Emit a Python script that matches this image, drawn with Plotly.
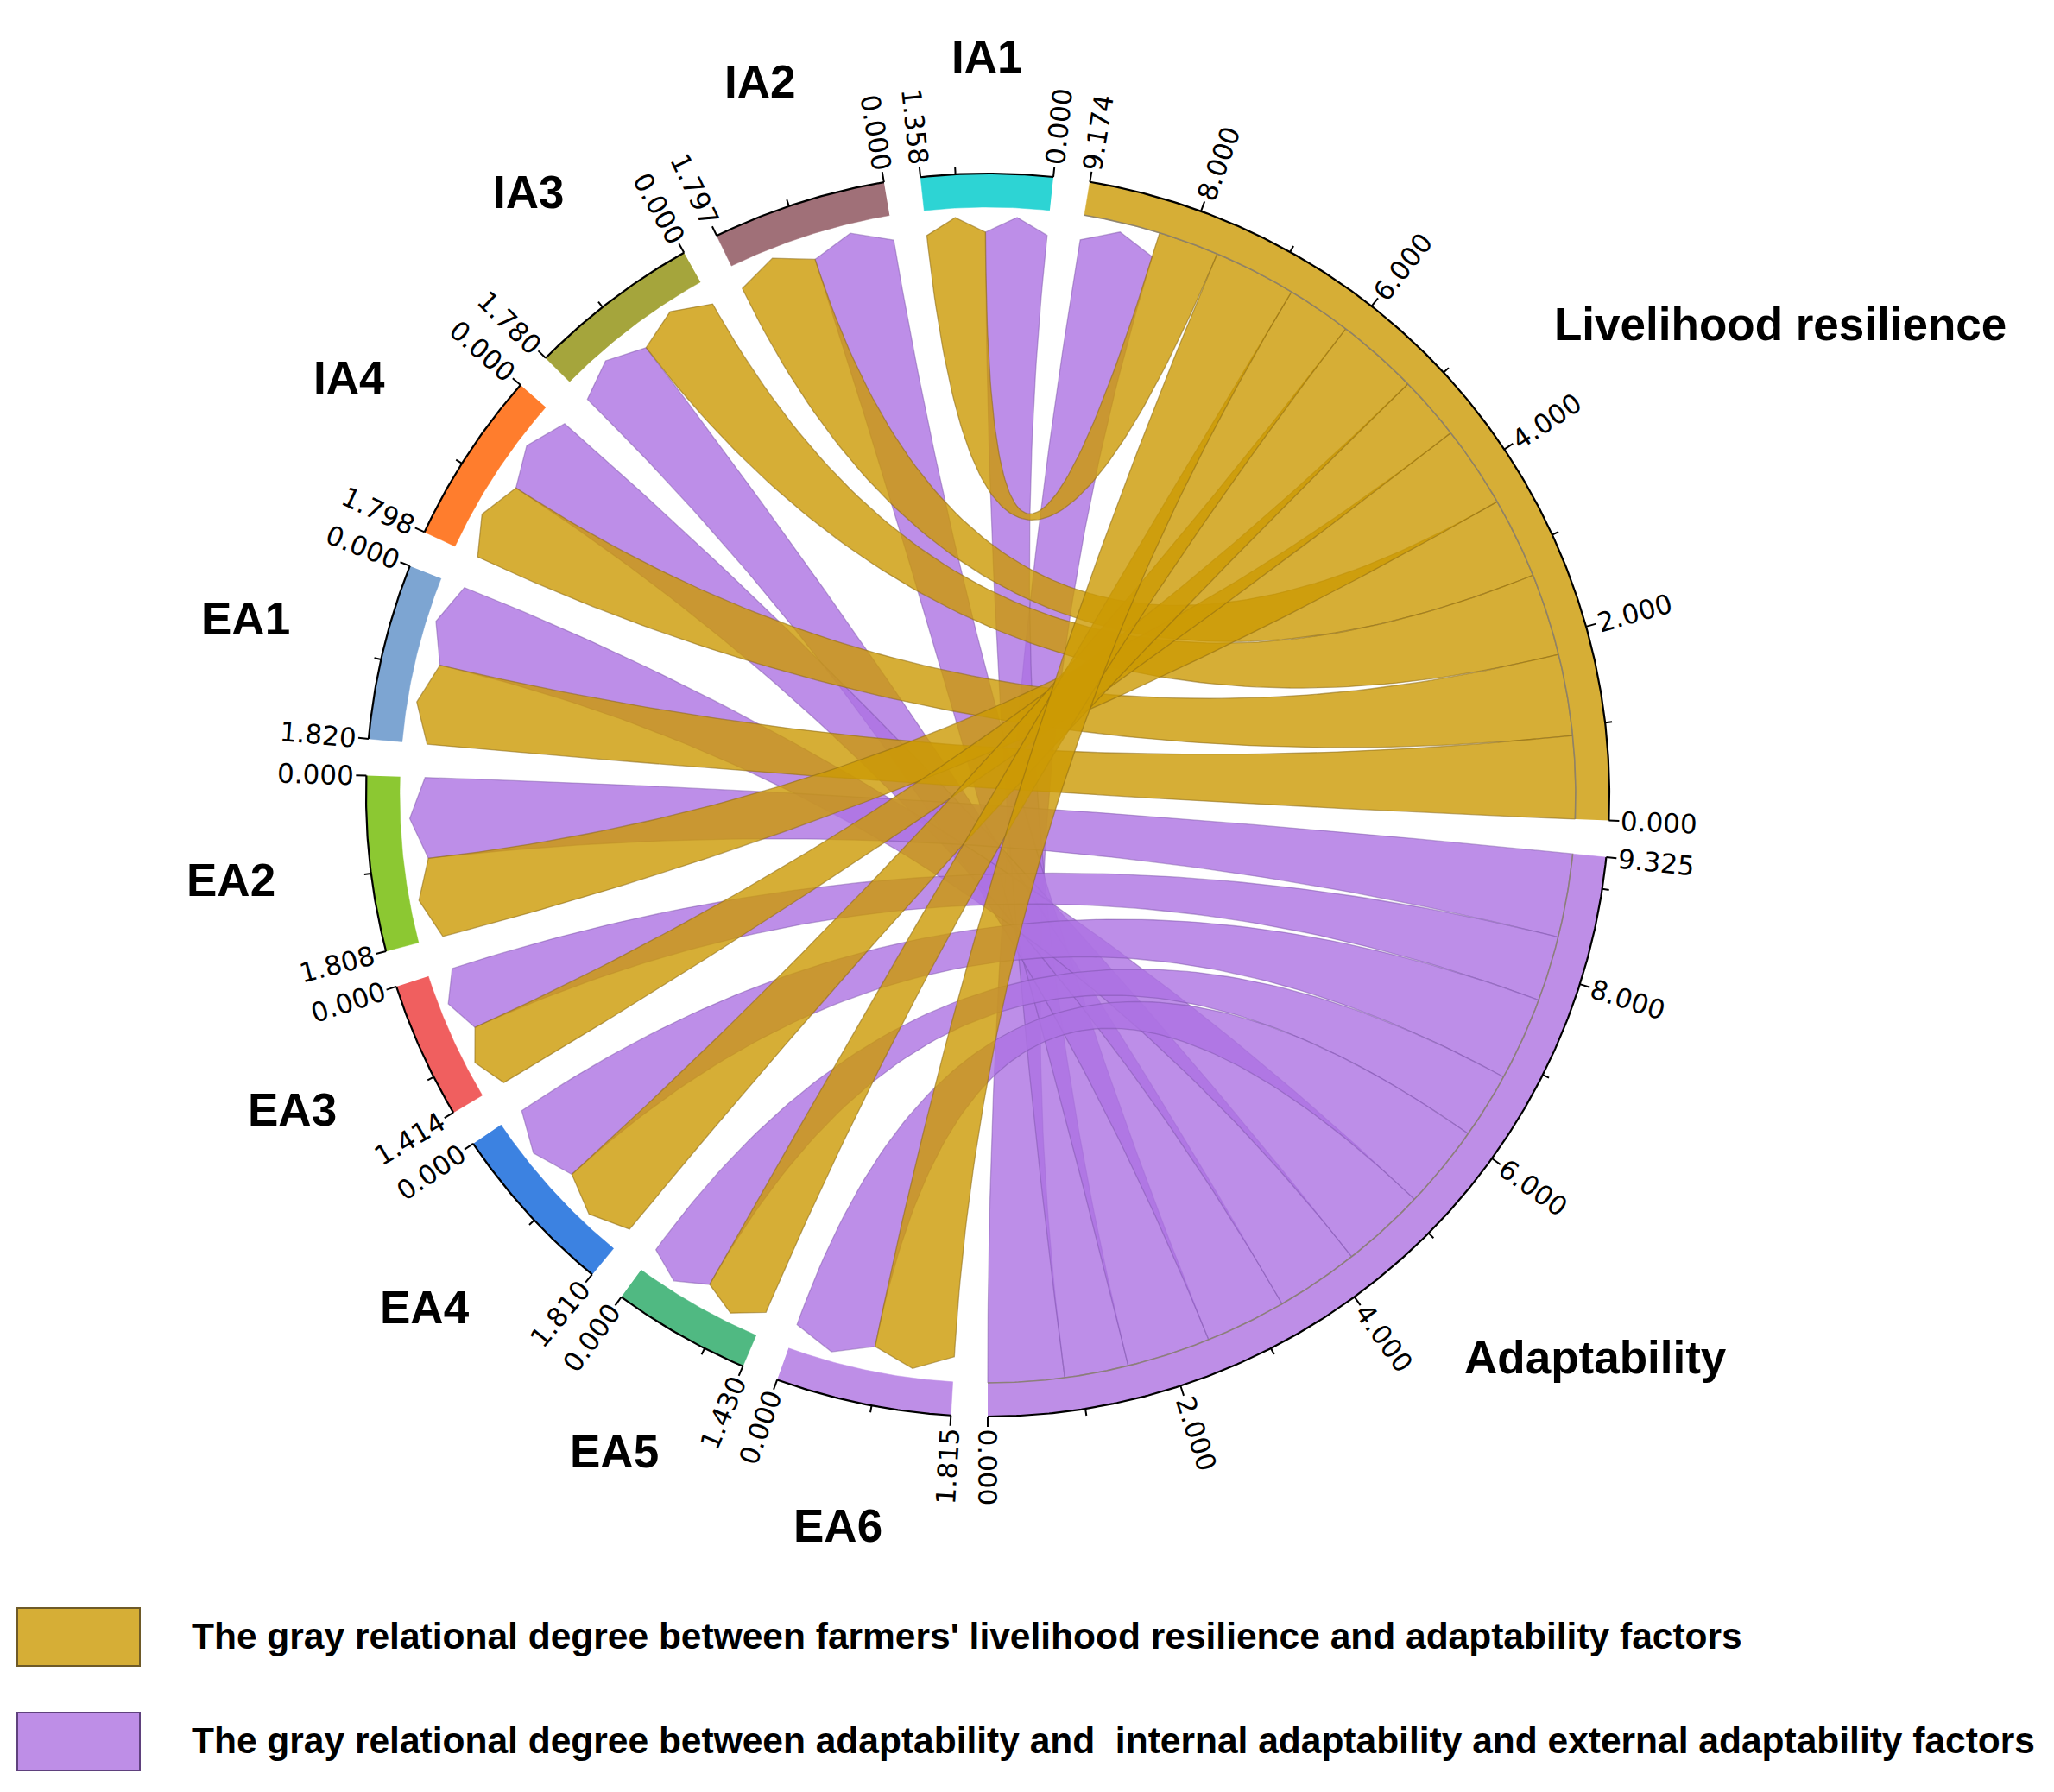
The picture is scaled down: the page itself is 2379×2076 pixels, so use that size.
import numpy as np
import plotly.graph_objects as go

# ---------------- data ----------------
sector_names = ["Adaptability", "Livelihood resilience", "IA1", "IA2", "IA3", "IA4",
                "EA1", "EA2", "EA3", "EA4", "EA5", "EA6"]
sector_totals = [9.325, 9.174, 1.358, 1.797, 1.780, 1.798, 1.820, 1.808, 1.414, 1.810, 1.430, 1.815]
factor_names = ["IA1", "IA2", "IA3", "IA4", "EA1", "EA2", "EA3", "EA4", "EA5", "EA6"]
# gray relational degree: livelihood resilience -> factor (gold) and adaptability -> factor (purple)
lr_to_factor = [0.662, 0.884, 0.898, 0.890, 0.902, 0.896, 0.702, 0.897, 0.708, 0.9005]
ad_to_factor = [0.696, 0.913, 0.882, 0.908, 0.918, 0.912, 0.712, 0.913, 0.722, 0.9145]
ad_to_lr = 0.8345
lr_link_order = ["EA1", "IA4", "IA3", "IA2", "EA2", "EA3", "EA4", "EA5", "EA6", "IA1"]
ad_link_order = ["IA1", "IA2", "IA3", "IA4", "EA1", "EA6", "EA5", "EA4", "EA3", "EA2"]
big_ticks = [2, 4, 6, 8]
legend_texts = [
    "The gray relational degree between farmers' livelihood resilience and adaptability factors",
    "The gray relational degree between adaptability and  internal adaptability and external adaptability factors",
]

# ---------------- style ----------------
W, H = 2379, 2076
CX, CY = 1144, 921
GAP = 3.4
START = -90.0
R_OUT, R_IN = 720, 681
R_SRC, R_SH, R_TIP = 681, 652, 670
GOLD_FILL = "rgba(204,154,4,0.80)"
GOLD_LINE = "rgba(140,105,20,0.55)"
PURP_FILL = "rgba(172,114,226,0.80)"
PURP_LINE = "rgba(120,80,165,0.45)"
sector_colors = {
    "Adaptability": "rgb(190,142,231)", "Livelihood resilience": "rgb(214,174,54)",
    "IA1": "rgb(45,212,212)", "IA2": "rgb(160,112,120)", "IA3": "rgb(165,165,60)",
    "IA4": "rgb(255,125,45)", "EA1": "rgb(125,165,210)", "EA2": "rgb(140,200,50)",
    "EA3": "rgb(240,95,95)", "EA4": "rgb(60,130,225)", "EA5": "rgb(80,185,130)",
    "EA6": "rgb(190,142,231)",
}
label_pos = {"Livelihood resilience": (30.7, 1068), "Adaptability": (-42.8, 959)}
FONT = "Liberation Sans"
TICK_FONT = "DejaVu Sans"

unit = (360 - GAP * len(sector_names)) / sum(sector_totals)
total_of = dict(zip(sector_names, sector_totals))
sec_start = {}
a = START
for nm, tot in zip(sector_names, sector_totals):
    sec_start[nm] = a
    a += tot * unit + GAP


def ang(nm, v):
    return sec_start[nm] + v * unit


def P(r, deg):
    t = np.radians(deg)
    return np.array([r * np.cos(t), r * np.sin(t)])


def arc(r, d1, d2):
    n = max(3, int(abs(d2 - d1) * 3) + 2)
    t = np.radians(np.linspace(d1, d2, n))
    return r * np.cos(t), r * np.sin(t)


def bez(p0, p2, n=90):
    t = np.linspace(0, 1, n)[:, None]
    pts = (1 - t) ** 2 * p0 + t ** 2 * p2
    return pts[:, 0], pts[:, 1]


# ---------------- link layout ----------------
LR, AD = "Livelihood resilience", "Adaptability"
lr_val = dict(zip(factor_names, lr_to_factor))
ad_val = dict(zip(factor_names, ad_to_factor))
links = []  # (src, src range, tgt, tgt range, kind)
c = 0.0
lr_src = {}
for f in lr_link_order:
    lr_src[f] = (c, c + lr_val[f]); c += lr_val[f]
lr_in = (c, c + ad_to_lr)
ad_src = {"LR": (0.0, ad_to_lr)}
c = ad_to_lr
for f in ad_link_order:
    ad_src[f] = (c, c + ad_val[f]); c += ad_val[f]
fac_slot = {}
for f in factor_names:
    items = sorted([("gold", lr_val[f]), ("purple", ad_val[f])], key=lambda z: -z[1])
    cc = 0.0
    for k, v in items:
        fac_slot[(f, k)] = (cc, cc + v); cc += v

links.append((AD, ad_src["LR"], LR, lr_in, "purple"))
for f in factor_names:
    links.append((AD, ad_src[f], f, fac_slot[(f, "purple")], "purple"))
for f in factor_names:
    links.append((LR, lr_src[f], f, fac_slot[(f, "gold")], "gold"))

fig = go.Figure()


def add_chord(src, sv, tgt, tv, kind):
    a1, a2 = ang(src, sv[0]), ang(src, sv[1])
    b1, b2 = ang(tgt, tv[0]), ang(tgt, tv[1])
    xs, ys = [], []
    x, y = arc(R_SRC, a1, a2); xs += list(x); ys += list(y)
    x, y = bez(P(R_SRC, a2), P(R_SH, b1)); xs += list(x); ys += list(y)
    tip = P(R_TIP, (b1 + b2) / 2)
    xs.append(tip[0]); ys.append(tip[1])
    x, y = bez(P(R_SH, b2), P(R_SRC, a1)); xs += list(x); ys += list(y)
    fill = GOLD_FILL if kind == "gold" else PURP_FILL
    line = GOLD_LINE if kind == "gold" else PURP_LINE
    fig.add_trace(go.Scatter(x=xs, y=ys, fill="toself", fillcolor=fill, mode="lines",
                             line=dict(color=line, width=1.3), hoverinfo="skip"))


for lk in [l for l in links if l[4] == "purple"]:
    add_chord(*lk)
for lk in [l for l in links if l[4] == "gold"]:
    add_chord(*lk)

# ---------------- tracks ----------------
for nm in sector_names:
    d1, d2 = ang(nm, 0), ang(nm, total_of[nm])
    xo, yo = arc(R_OUT, d1, d2)
    xi, yi = arc(R_IN, d2, d1)
    fig.add_trace(go.Scatter(x=list(xo) + list(xi), y=list(yo) + list(yi), fill="toself",
                             fillcolor=sector_colors[nm], mode="lines",
                             line=dict(color=sector_colors[nm], width=0.5), hoverinfo="skip"))
    if nm in (LR, AD):
        xi, yi = arc(R_IN, d1, d2)
        fig.add_trace(go.Scatter(x=xi, y=yi, mode="lines", hoverinfo="skip",
                                 line=dict(color="rgba(135,125,110,0.9)", width=1.6)))
    xo, yo = arc(R_OUT, d1, d2)
    fig.add_trace(go.Scatter(x=xo, y=yo, mode="lines", hoverinfo="skip",
                             line=dict(color="black", width=2.2)))

# ---------------- ticks & labels ----------------
tx, ty = [], []
annotations = []
TFS = 31


def tick_label(deg, text):
    L = len(text) * 0.575 * TFS
    r = R_OUT + 14 + L / 2
    p = P(r, deg)
    c = np.cos(np.radians(deg))
    rot = -deg if c >= -1e-6 else 180 - deg
    annotations.append(dict(x=p[0], y=p[1], text=text, showarrow=False, textangle=rot,
                            xanchor="center", yanchor="middle",
                            font=dict(family=TICK_FONT, size=TFS, color="black")))


for nm in sector_names:
    tot = total_of[nm]
    majors = [0.0, tot] + ([v for v in big_ticks if v < tot - 0.3] if nm in (LR, AD) else [])
    minors = [v for v in range(1, int(tot) + 1) if v % 2 == 1 and v < tot - 0.2] if nm in (LR, AD) \
        else [v for v in range(1, int(tot) + 1) if v < tot - 0.2]
    for v in majors:
        d = ang(nm, v)
        p0, p1 = P(R_OUT, d), P(R_OUT + 12, d)
        tx += [p0[0], p1[0], None]; ty += [p0[1], p1[1], None]
        tick_label(d, f"{v:.3f}")
    for v in minors:
        d = ang(nm, v)
        p0, p1 = P(R_OUT, d), P(R_OUT + 8, d)
        tx += [p0[0], p1[0], None]; ty += [p0[1], p1[1], None]
fig.add_trace(go.Scatter(x=tx, y=ty, mode="lines", line=dict(color="black", width=2),
                         hoverinfo="skip"))

for nm in sector_names:
    if nm in label_pos:
        d, r = label_pos[nm]
        p = P(r, d)
    else:
        d = ang(nm, total_of[nm] / 2)
        t = np.radians(d)
        r = 835 + abs(np.cos(t)) * 45 + abs(np.sin(t)) * 20
        p = P(r, d)
    annotations.append(dict(x=p[0], y=p[1], text=f"<b>{nm}</b>", showarrow=False,
                            xanchor="center", yanchor="middle",
                            font=dict(family=FONT, size=53, color="black")))

# ---------------- legend ----------------
shapes = []
leg_fill = ["rgb(214,174,54)", "rgb(190,142,231)"]
leg_line = ["rgb(110,90,40)", "rgb(95,65,125)"]
leg_top = [1863, 1984]
for i in range(2):
    y0, y1 = CY - leg_top[i], CY - (leg_top[i] + 67)
    shapes.append(dict(type="rect", xref="x", yref="y", x0=20 - CX, x1=162 - CX, y0=y1, y1=y0,
                       fillcolor=leg_fill[i], line=dict(color=leg_line[i], width=2)))
    annotations.append(dict(x=220 - CX, y=CY - (leg_top[i] + 32), text=f"<b>{legend_texts[i]}</b>",
                            showarrow=False, xanchor="left", yanchor="middle",
                            font=dict(family=FONT, size=42.5, color="black")))

fig.update_layout(
    width=W, height=H, margin=dict(l=0, r=0, t=0, b=0),
    paper_bgcolor="white", plot_bgcolor="white", showlegend=False,
    xaxis=dict(range=[-CX, W - CX], visible=False, fixedrange=True),
    yaxis=dict(range=[CY - H, CY], visible=False, fixedrange=True),
    annotations=annotations, shapes=shapes,
)
fig.write_html("out.html", config={"displayModeBar": False},
               post_script="document.body.style.margin='0px';")
